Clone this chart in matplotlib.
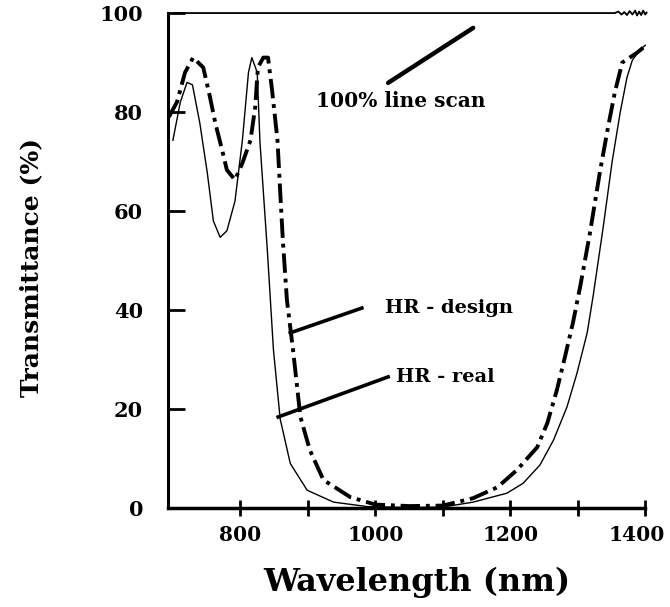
import matplotlib.pyplot as plt
from matplotlib.transforms import ScaledTranslation

plt.rcParams['font.family'] = ['DejaVu Serif']
plt.rcParams['font.weight'] = 'bold'

# HR - real (solid thin)
real_nm = [700, 711, 721, 729, 740, 751, 760, 770, 780, 792, 803, 812, 817,
           825, 829, 834, 840, 849, 859, 874, 899, 938, 988, 1050, 1100,
           1145, 1195, 1219, 1244, 1264, 1284, 1299, 1314, 1323, 1338, 1351,
           1363, 1373, 1381, 1392, 1400]
real_T = [74.3, 82, 86, 85.5, 77.7, 67.7, 58, 54.7, 56, 62, 74.3, 88, 91,
          88, 74, 64, 52, 32, 18, 9, 3.6, 1.2, 0.3, 0.1, 0.2,
          1.2, 3, 5, 8.7, 13.7, 20.4, 27.3, 35.4, 43, 57, 70,
          80, 87, 90.5, 92.5, 93.5]

# HR - design (dash-dot thick)
design_nm = [694, 706, 718, 730, 745, 755, 763, 773, 780, 792, 803, 815, 822,
             826, 834, 841, 847, 855, 859, 863, 869, 878, 889, 903, 923, 963,
             1000, 1050, 1100, 1145, 1181, 1210, 1240, 1255, 1269, 1281, 1293,
             1304, 1318, 1333, 1345, 1355, 1366, 1388, 1397]
design_T = [79, 82, 88, 91, 89, 83, 77.7, 72.3, 68.3, 66.3, 69.7, 74.3, 81,
            89, 91, 91, 84.4, 74.3, 64, 54, 42, 32, 18.4, 11.7, 5.7, 2.2,
            0.7, 0.4, 0.5, 2, 4.2, 7.7, 12.3, 17.2, 23.8, 30.5, 37.5,
            45, 55.5, 68, 77, 84, 90, 92, 93]

# 100% line scan
scan_nm = [702, 900, 1100, 1300, 1355, 1360, 1365, 1369, 1373, 1377, 1381,
           1385, 1388, 1391, 1394, 1397, 1400, 1402]
scan_T = [100, 100, 100, 100, 100, 100.3, 99.7, 100.2, 99.6, 100.4, 99.7,
          100.5, 99.5, 100.3, 99.6, 100.5, 99.7, 100.1]

xticks = [800, 900, 1000, 1100, 1200, 1300, 1400]
xlabels = ['800', '', '1000', '', '1200', '', '1400']
yticks = [0, 20, 40, 60, 80, 100]

fig = plt.figure(figsize=(6.7, 6.07), dpi=100)
ax = fig.add_axes([0.251, 0.163, 0.712, 0.8155])

ax.plot(real_nm, real_T, color='black', lw=1.0, clip_on=False)
ax.plot(design_nm, design_T, color='black', lw=2.8, linestyle=(0, (5, 1.5, 1, 1.5)), clip_on=False)
ax.plot(scan_nm, scan_T, color='black', lw=1.3, clip_on=False)

ax.set_xlim(693, 1400)
ax.set_ylim(0, 100)
ax.spines['top'].set_visible(False)
ax.spines['right'].set_visible(False)
ax.spines['left'].set_linewidth(2.2)
ax.spines['bottom'].set_linewidth(2.5)

ax.set_xticks(xticks)
ax.set_xticklabels(xlabels)
ax.set_yticks(yticks)
ax.tick_params(axis='x', direction='inout', length=11, width=2, labelsize=14.5, pad=7)
ax.tick_params(axis='y', direction='in', length=12, width=2, labelsize=15, pad=18)
# nudge the last label left so it stays inside the picture
lab = ax.get_xticklabels()[-1]
lab.set_transform(lab.get_transform() + ScaledTranslation(-6 / 72, 0, fig.dpi_scale_trans))

ax.set_xlabel('Wavelength (nm)', fontsize=23, fontweight='bold')
ax.xaxis.set_label_coords(0.522, -0.118)
ax.set_ylabel('Transmittance (%)', fontsize=18, fontweight='bold')
ax.yaxis.set_label_coords(-0.262, 0.485)

# annotations
ax.plot([1019, 1145], [85.9, 97.0], color='black', lw=3.2, solid_capstyle='round')
ax.text(1037, 82.2, '100% line scan', fontsize=14.5, fontweight='bold', va='center', ha='center')
ax.plot([874, 980], [35.4, 40.4], color='black', lw=2.6)
ax.text(1015, 40.4, 'HR - design', fontsize=14, fontweight='bold', va='center', ha='left')
ax.plot([856, 1019], [18.4, 26.5], color='black', lw=2.6)
ax.text(1031, 26.5, 'HR - real', fontsize=14, fontweight='bold', va='center', ha='left')

fig.savefig('out.png', dpi=100)
